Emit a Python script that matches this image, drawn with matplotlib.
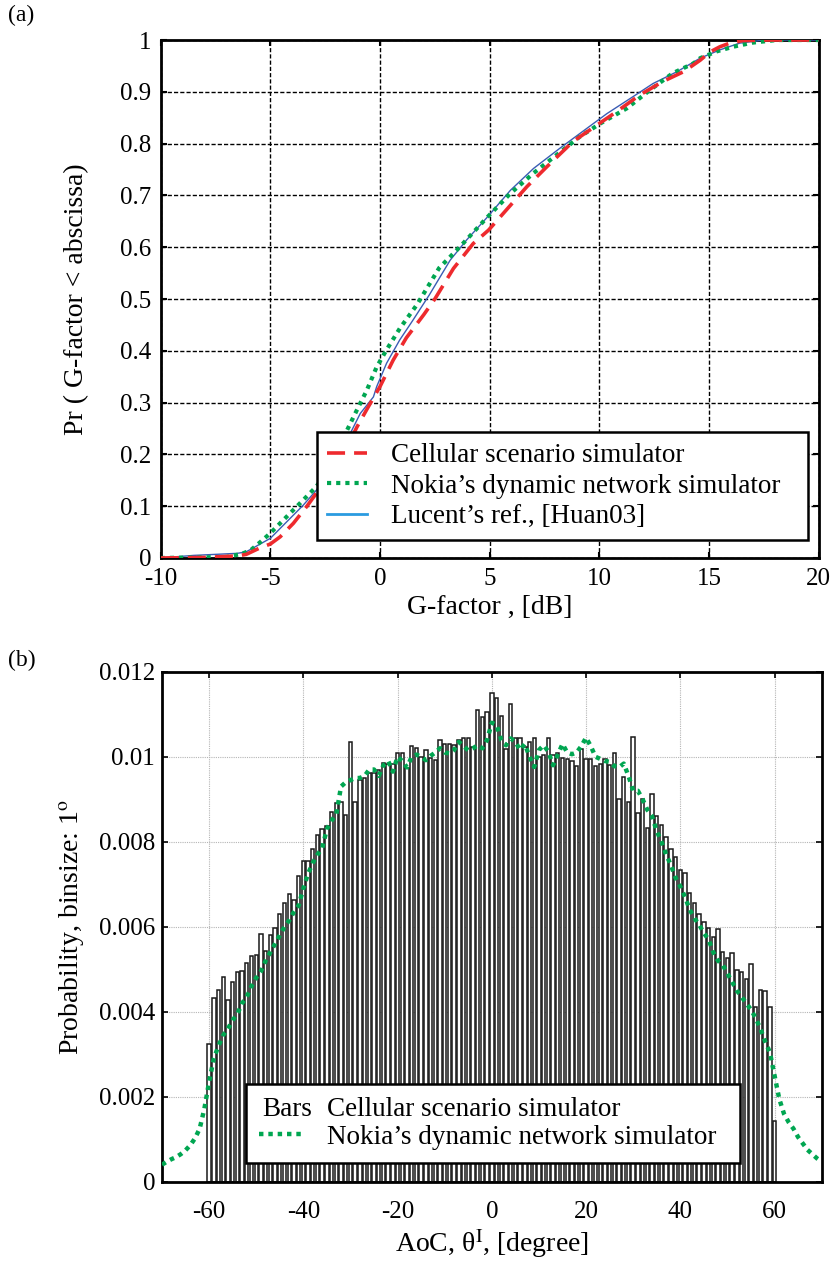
import matplotlib
matplotlib.use("Agg")
import matplotlib.pyplot as plt
from matplotlib.lines import Line2D
from matplotlib.legend_handler import HandlerBase
from matplotlib.text import Text
import numpy as np

plt.rcParams['font.family'] = ['Liberation Serif', 'DejaVu Serif']
plt.rcParams['mathtext.fontset'] = 'stix'
plt.rcParams['axes.unicode_minus'] = False

# ---- panel (a): CDF of the G-factor ----
red_x = [-10, -8, -6.5, -6.1, -5.5, -5.0, -4.55, -3.95, -3.35, -2.9, -2.15, -1.5,
         -1.05, -0.6, 0, 0.6, 1.2, 2.0, 2.5, 3.35, 4.25, 4.95, 5.95, 6.7, 7.6, 8.8,
         9.9, 10.8, 11.85, 12.9, 13.85, 14.6, 15.05, 15.5, 15.95, 16.55, 17.6, 20]
red_y = [0, 0.001, 0.004, 0.007, 0.019, 0.027, 0.041, 0.067, 0.099, 0.125, 0.176, 0.215,
         0.253, 0.287, 0.331, 0.382, 0.425, 0.47, 0.5, 0.559, 0.607, 0.633, 0.681, 0.717,
         0.755, 0.804, 0.836, 0.862, 0.894, 0.92, 0.939, 0.961, 0.977, 0.987, 0.994, 0.999,
         1.0, 1.0]

green_x = [-10, -7, -6.3, -5.9, -5.45, -5.0, -4.25, -3.5, -2.9, -2.15, -1.5, -1.05, -0.6,
           -0.15, 0.3, 0.9, 1.7, 2.7, 3.65, 4.85, 5.95, 7.0, 8.05, 9.1, 10.05, 11.25, 12.3,
           13.35, 14.3, 14.6, 15.35, 16.1, 17.0, 18.1, 20]
green_y = [0, 0.002, 0.008, 0.015, 0.031, 0.048, 0.08, 0.112, 0.138, 0.183, 0.247, 0.286,
           0.324, 0.369, 0.402, 0.443, 0.49, 0.56, 0.601, 0.656, 0.704, 0.743, 0.778, 0.813,
           0.839, 0.868, 0.903, 0.936, 0.955, 0.965, 0.978, 0.987, 0.995, 1.0, 1.0]

blue_x = [-10, -8.5, -6.5, -6.1, -5.8, -5.0, -4.25, -3.5, -2.9, -1.95, -1.35, -0.9, -0.3,
          -0.15, 0.3, 0.9, 1.5, 2.25, 3.2, 3.95, 4.85, 5.95, 7.0, 8.2, 9.45, 10.35, 11.55,
          12.45, 13.55, 14.6, 15.5, 16.4, 17.5, 20]
blue_y = [0, 0.005, 0.009, 0.012, 0.019, 0.038, 0.07, 0.102, 0.131, 0.189, 0.241, 0.279,
          0.311, 0.331, 0.376, 0.421, 0.459, 0.508, 0.575, 0.614, 0.656, 0.71, 0.752, 0.791,
          0.83, 0.858, 0.891, 0.916, 0.939, 0.965, 0.981, 0.994, 1.0, 1.0]

# ---- panel (b): AoC histogram (1 degree bins), values in units of 1e-3 ----
bin_deg = list(range(-60, 61))
bars_permille = [
    3.25, 4.33, 4.51, 4.81, 4.27, 4.71, 4.94, 4.96, 5.14, 5.32,   # -60 .. -51
    5.34, 5.82, 5.43, 5.80, 5.96, 6.29, 6.57, 6.78, 6.64, 7.20,   # -50 .. -41
    7.55, 7.55, 7.84, 8.16, 8.31, 8.37, 8.69, 8.92, 8.93, 8.63,   # -40 .. -31
    10.35, 8.94, 9.45, 9.50, 9.62, 9.62, 9.68, 9.85, 9.84, 9.84,  # -30 .. -21
    10.08, 10.08, 9.73, 10.26, 10.20, 10.00, 10.17, 9.96, 9.92, 10.39,  # -20 .. -11
    10.30, 10.30, 10.27, 10.39, 10.43, 10.45, 10.24, 11.11, 10.94, 11.06,  # -10 .. -1
    11.49, 11.39, 10.97, 10.18, 11.25, 10.45, 10.43, 10.24, 10.35, 10.45,  # 0 .. 9
    10.00, 10.04, 10.43, 10.04, 10.09, 9.96, 9.95, 9.90, 9.78, 10.18,  # 10 .. 19
    9.95, 9.95, 9.78, 9.83, 9.95, 9.80, 10.10, 9.01, 9.52, 8.93,   # 20 .. 29
    10.47, 8.68, 9.00, 8.32, 9.13, 8.60, 8.40, 8.12, 7.82, 7.64,   # 30 .. 39
    7.33, 7.27, 6.79, 6.56, 6.31, 6.10, 5.98, 5.76, 5.95, 5.41,   # 40 .. 49
    5.27, 5.39, 4.99, 4.94, 4.78, 5.12, 4.11, 4.51, 4.48, 4.12,   # 50 .. 59
    1.42]                                                         # 60

nokia_deg = list(range(-70, 71))
nokia_permille = [
    0.40, 0.47, 0.53, 0.58, 0.65, 0.74, 0.86, 1.02, 1.25, 1.72,   # -70 .. -61
    2.35, 2.90, 3.20, 3.45, 3.60, 3.80, 3.95, 4.20, 4.35, 4.60,   # -60 .. -51
    4.80, 4.95, 5.20, 5.40, 5.60, 5.80, 6.00, 6.15, 6.35, 6.50,   # -50 .. -41
    6.90, 7.25, 7.50, 7.70, 7.85, 8.30, 8.50, 8.65, 9.30, 9.40,   # -40 .. -31
    9.45, 9.50, 9.50, 9.55, 9.70, 9.70, 9.55, 9.80, 9.90, 9.65,   # -30 .. -21
    10.00, 9.90, 9.75, 10.00, 10.05, 10.00, 9.92, 10.02, 10.10, 10.20,  # -20 .. -11
    10.10, 10.08, 10.16, 10.35, 10.25, 10.15, 10.20, 10.27, 10.20, 10.40,  # -10 .. -1
    10.80, 10.75, 10.40, 10.27, 10.43, 10.35, 10.16, 10.30, 10.00, 9.76,  # 0 .. 9
    10.16, 10.27, 10.12, 9.80, 10.05, 10.30, 10.10, 10.06, 10.10, 10.25,  # 10 .. 19
    10.45, 10.25, 10.00, 9.95, 9.90, 9.88, 9.78, 9.75, 9.84, 9.55,  # 20 .. 29
    9.20, 9.20, 9.00, 8.75, 8.60, 8.25, 8.00, 7.70, 7.45, 7.15,   # 30 .. 39
    6.95, 6.70, 6.40, 6.20, 6.05, 5.85, 5.70, 5.40, 5.20, 5.10,   # 40 .. 49
    4.90, 4.70, 4.50, 4.35, 4.20, 4.05, 3.85, 3.60, 3.30, 3.05,   # 50 .. 59
    2.50, 1.95, 1.60, 1.40, 1.25, 1.05, 0.90, 0.75, 0.65, 0.55,   # 60 .. 69
    0.47]                                                         # 70

top_xticks = [-10, -5, 0, 5, 10, 15, 20]
top_yticks = [0, 0.1, 0.2, 0.3, 0.4, 0.5, 0.6, 0.7, 0.8, 0.9, 1]
top_yticklabels = ['0', '0.1', '0.2', '0.3', '0.4', '0.5', '0.6', '0.7', '0.8', '0.9', '1']
bot_xticks = [-60, -40, -20, 0, 20, 40, 60]
bot_yticks = [0, 0.002, 0.004, 0.006, 0.008, 0.01, 0.012]
bot_yticklabels = ['0', '0.002', '0.004', '0.006', '0.008', '0.01', '0.012']

RED = '#ee2a2e'
GREEN = '#00a651'
BLUE = '#3a5cb4'
BLUE_LEG = '#2a9be0'
FS = 18      # tick labels
FS_LAB = 20  # axis labels
FS_LEG = 19.5


class TextHandle(HandlerBase):
    """Legend handle drawn as a word instead of a marker."""
    def __init__(self, word):
        super().__init__()
        self.word = word

    def create_artists(self, legend, orig_handle, xdescent, ydescent,
                       width, height, fontsize, trans):
        # baseline of the legend text sits at y = 0 of the handle box
        t = Text(-xdescent + 2, 0, self.word, fontsize=fontsize,
                 ha='left', va='baseline', transform=trans)
        return [t]


def main():
    fig = plt.figure(figsize=(8.38, 12.67), dpi=100)

    # ---------------- (a) ----------------
    ax1 = fig.add_axes([0.1918, 0.5596, 0.785, 0.4088])
    ax1.plot(blue_x, blue_y, color=BLUE, lw=1.0, zorder=3)
    ax1.plot(green_x, green_y, color=GREEN, lw=3, linestyle=(0, (1, 1.2)), zorder=4)
    ax1.plot(red_x, red_y, color=RED, lw=2.6, linestyle=(0, (5, 2.5)), zorder=5)

    ax1.set_xlim(-10, 20)
    ax1.set_ylim(0, 1)
    ax1.set_xticks(top_xticks)
    ax1.set_yticks(top_yticks)
    ax1.set_yticklabels(top_yticklabels)
    ax1.grid(True, color='black', lw=1.0, linestyle=(0, (3, 1.5)))
    ax1.tick_params(direction='in', top=True, right=True, length=4, width=1.5,
                    labelsize=FS, pad=7)
    for s in ax1.spines.values():
        s.set_linewidth(2)
    ax1.set_xlabel('G-factor , [dB]', fontsize=FS_LAB, labelpad=4)
    ax1.set_ylabel('Pr ( G-factor < abscissa)', fontsize=FS_LAB, labelpad=22)

    h_red = Line2D([], [], color=RED, lw=2.6, linestyle=(0, (5, 2.5)))
    h_green = Line2D([], [], color=GREEN, lw=3, linestyle=(0, (1, 1.2)))
    h_blue = Line2D([], [], color=BLUE_LEG, lw=2)
    leg1 = ax1.legend([h_red, h_green, h_blue],
                      ['Cellular scenario simulator', "Nokia\u2019s dynamic network simulator",
                       "Lucent\u2019s ref., [Huan03]"],
                      loc='lower left', bbox_to_anchor=(0.237, 0.035, 0.747, 0.2),
                      mode='expand', fontsize=FS_LEG,
                      fancybox=False, framealpha=1, edgecolor='black',
                      handlelength=1.45, handletextpad=0.9, labelspacing=0.2,
                      borderpad=0.4, borderaxespad=0)
    leg1.get_frame().set_linewidth(1.8)
    leg1.set_zorder(10)

    # ---------------- (b) ----------------
    ax2 = fig.add_axes([0.1933, 0.0673, 0.7872, 0.4025])
    bars = np.array(bars_permille) * 1e-3
    nokia = np.array(nokia_permille) * 1e-3
    ax2.bar(bin_deg, bars, width=0.72, facecolor='white', edgecolor='#1a1a1a',
            linewidth=1.1, zorder=2)
    ax2.plot(nokia_deg, nokia, color=GREEN, lw=3.2, linestyle=(0, (1, 1.1)), zorder=4)

    ax2.set_xlim(-70, 70)
    ax2.set_ylim(0, 0.012)
    ax2.set_xticks(bot_xticks)
    ax2.set_yticks(bot_yticks)
    ax2.set_yticklabels(bot_yticklabels)
    ax2.set_axisbelow(True)
    ax2.grid(True, color='#b5b5b5', lw=0.8, linestyle=(0, (1, 1)))
    ax2.tick_params(axis='x', direction='in', top=True, length=4, width=1.2,
                    labelsize=FS, pad=14)
    ax2.tick_params(axis='y', direction='in', right=True, length=4, width=1.2,
                    labelsize=FS, pad=5)
    for s in ax2.spines.values():
        s.set_linewidth(2)
    ax2.set_xlabel('AoC, \u03b8$^{\\mathrm{I}}$, [degree]', fontsize=FS_LAB, labelpad=3)
    ax2.set_ylabel('Probability, binsize: 1$^{\\mathrm{o}}$', fontsize=FS_LAB, labelpad=9)

    h_bars = Line2D([], [])
    h_nokia = Line2D([], [], color=GREEN, lw=3.2, linestyle=(0, (1, 1.1)))
    leg2 = ax2.legend([h_bars, h_nokia],
                      ['Cellular scenario simulator', "Nokia\u2019s dynamic network simulator"],
                      handler_map={h_bars: TextHandle('Bars')},
                      loc='lower left', bbox_to_anchor=(0.127, 0.036, 0.749, 0.15),
                      mode='expand', fontsize=FS_LEG,
                      fancybox=False, framealpha=1, edgecolor='black',
                      handlelength=1.65, handletextpad=0.85, labelspacing=0.1,
                      borderpad=0.5, borderaxespad=0)
    leg2.get_frame().set_linewidth(1.8)
    leg2.set_zorder(10)

    fig.text(0.010, 0.988, '(a)', fontsize=17, ha='left', va='center')
    fig.text(0.010, 0.479, '(b)', fontsize=17, ha='left', va='center')

    fig.savefig('out.png', dpi=100)
    print("done")


if __name__ == "__main__":
    main()
